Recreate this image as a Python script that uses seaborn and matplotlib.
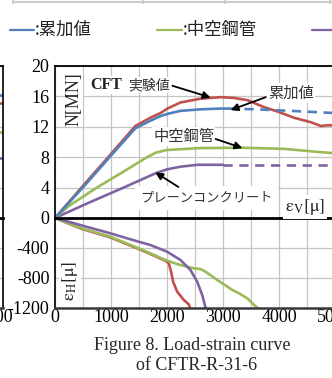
import numpy as np
import matplotlib
matplotlib.use("Agg")
import matplotlib.pyplot as plt
from matplotlib.lines import Line2D
import seaborn as sns

# --- top panel: N [MN] vs vertical strain eV [micro] ---
red_ev = [0, 484, 950, 1434, 1703, 1882, 2007, 2240, 2598, 2957, 3190, 3441, 3728, 3978, 4265, 4570, 4749, 4857, 5017]
red_n = [0, 4.1, 8.0, 12.1, 13.2, 13.8, 14.4, 15.2, 15.7, 15.9, 15.8, 15.5, 14.6, 14.0, 13.2, 12.6, 12.1, 12.2, 12.2]
blue_ev = [0, 484, 950, 1434, 1703, 1882, 2007, 2240, 2598, 2957, 3100]
blue_n = [0, 3.9, 7.8, 11.8, 12.8, 13.4, 13.7, 14.1, 14.3, 14.4, 14.4]
blue_dash_ev = [3100, 3600, 4200, 5017]
blue_dash_n = [14.4, 14.3, 14.1, 13.8]
green_ev = [0, 250, 747, 1200, 1643, 1800, 2000, 2598, 3315, 4086, 4690, 5017]
green_n = [0, 1.6, 4.0, 6.0, 8.0, 8.6, 8.95, 9.2, 9.25, 9.1, 8.7, 8.5]
purple_ev = [0, 600, 1225, 1800, 2000, 2240, 2540, 3000]
purple_n = [0, 2.0, 4.0, 5.9, 6.4, 6.75, 7.0, 7.0]
purple_dash_ev = [3000, 5017]
purple_dash_n = [7.0, 7.0]

# --- bottom panel: horizontal strain eH [micro] vs eV ---
red_h_ev = [0, 478, 986, 1493, 1703, 1971, 2031, 2073, 2109, 2181, 2300, 2390, 2410]
red_h = [0, -145, -258, -412, -480, -570, -604, -716, -849, -982, -1093, -1151, -1200]
green_h_ev = [0, 478, 986, 1493, 1703, 1971, 2091, 2240, 2479, 2598, 2688, 2898, 3167, 3285, 3435, 3554, 3620]
green_h = [0, -138, -249, -404, -471, -560, -591, -627, -671, -680, -716, -827, -960, -1004, -1071, -1160, -1200]
purple_h_ev = [0, 986, 1493, 1703, 2001, 2240, 2419, 2539, 2629, 2676, 2690]
purple_h = [0, -204, -316, -360, -449, -560, -693, -849, -1027, -1160, -1200]

# --- previous figure, only its right edge is visible ---
left_ev = [4700, 5125]
left_blue = [16.2, 16.2]
left_red = [15.1, 15.1]
left_green = [11.3, 11.3]
left_purple = [7.9, 7.9]

top_ticks = [0, 4, 8, 12, 16, 20]
bot_ticks = [-1200, -800, -400, 0]
bot_labels = ["-1200", "-800", "-400", ""]
x_ticks = [0, 1000, 2000, 3000, 4000, 5000]

RED, BLUE, GREEN, PURPLE = "#C0504D", "#4F81BD", "#9BBB59", "#8064A2"
GRID = "#c4c4c4"
LW = 1.9

sns.set_theme(style="white")
plt.rcParams['font.family'] = ['Liberation Serif', 'Noto Sans CJK JP', 'DejaVu Sans']
plt.rcParams['mathtext.fontset'] = 'stix'

W, H = 332, 378
def fx(px):
    return px / W
def fy(py):
    return 1 - py / H

fig = plt.figure(figsize=(W / 100, H / 100), dpi=100)


def make_pair(x_left_px, width_px, xmax, xticks, minor):
    ax_b = fig.add_axes([fx(x_left_px), fy(308), width_px / W, (308 - 218) / H])
    ax_t = fig.add_axes([fx(x_left_px), fy(218), width_px / W, (218 - 66) / H], sharex=ax_b)
    for ax in (ax_t, ax_b):
        ax.set_xlim(0, xmax)
        ax.set_xticks(xticks)
        ax.set_xticks(minor, minor=True)
        ax.grid(True, which='both', color=GRID, lw=0.9)
        ax.set_axisbelow(True)
        ax.tick_params(which='minor', length=0)
        ax.tick_params(axis='y', direction='out', length=3, width=1, pad=1,
                       labelsize=13, colors='black')
        ax.spines['right'].set_visible(False)
        ax.spines['left'].set_color('black')
        ax.spines['left'].set_linewidth(1.2)
    ax_t.set_ylim(0, 20)
    ax_t.set_yticks(top_ticks)
    ax_t.spines['bottom'].set_color('black')
    ax_t.spines['bottom'].set_linewidth(2.0)
    ax_t.spines['top'].set_color('black')
    ax_t.spines['top'].set_linewidth(1.3)
    ax_t.tick_params(axis='x', which='major', direction='inout', length=8,
                     width=1.2, labelbottom=False, color='black')
    ax_b.set_ylim(-1200, 0)
    ax_b.set_yticks(bot_ticks)
    ax_b.set_yticklabels(bot_labels)
    ax_b.spines['top'].set_visible(False)
    ax_b.spines['bottom'].set_color('#3a3a3a')
    ax_b.spines['bottom'].set_linewidth(1.8)
    ax_b.tick_params(axis='x', which='major', length=0, pad=1, labelsize=13,
                     colors='black')
    return ax_t, ax_b


# previous chart (cut off at the left edge)
lt, lb = make_pair(3 - 287, 287, 5125, [5000], [4500])
for vals, col in [(left_blue, BLUE), (left_red, RED), (left_green, GREEN), (left_purple, PURPLE)]:
    sns.lineplot(x=left_ev, y=vals, ax=lt, color=col, lw=LW)
for ax in (lt, lb):
    ax.tick_params(axis='y', labelleft=False, length=0)
    ax.spines['left'].set_visible(False)
    ax.spines['right'].set_visible(True)
    ax.spines['right'].set_color('black')
    ax.spines['right'].set_linewidth(1.2)

ax_t, ax_b = make_pair(55, 280, 5000, x_ticks, np.arange(500, 5000, 1000))

kw = dict(lw=LW, estimator=None)
sns.lineplot(x=purple_ev, y=purple_n, ax=ax_t, color=PURPLE, **kw)
sns.lineplot(x=purple_dash_ev, y=purple_dash_n, ax=ax_t, color=PURPLE, ls=(0, (3.5, 2.5)), **kw)
sns.lineplot(x=green_ev, y=green_n, ax=ax_t, color=GREEN, **kw)
sns.lineplot(x=red_ev, y=red_n, ax=ax_t, color=RED, **kw)
sns.lineplot(x=blue_ev, y=blue_n, ax=ax_t, color=BLUE, **kw)
sns.lineplot(x=blue_dash_ev, y=blue_dash_n, ax=ax_t, color=BLUE, ls=(0, (3.5, 2.5)), **kw)

sns.lineplot(x=red_h_ev, y=red_h, ax=ax_b, color=RED, **kw)
sns.lineplot(x=green_h_ev, y=green_h, ax=ax_b, color=GREEN, **kw)
sns.lineplot(x=purple_h_ev, y=purple_h, ax=ax_b, color=PURPLE, **kw)

# axis labels inside the plot
ax_t.text(0.068, 0.78, "N[MN]", transform=ax_t.transAxes, rotation=90,
          ha='center', va='center', fontsize=13,
          bbox=dict(fc='white', ec='none', pad=0.5))
ax_b.text(0.054, 0.30, r"$\mathrm{\varepsilon_H[\mu]}$", transform=ax_b.transAxes,
          rotation=90, ha='center', va='center', fontsize=13,
          bbox=dict(fc='white', ec='none', pad=0.5))
ax_t.text(4462, 1.45, r"$\mathrm{\varepsilon_V[\mu]}$", ha='center', va='center',
          fontsize=13, bbox=dict(fc='white', ec='none', pad=1.5))

jp = ['Noto Sans CJK JP', 'DejaVu Sans']
box = dict(fc='white', ec='none', pad=0.8)
ax_t.text(627, 17.5, "CFT", ha='left', va='center', fontsize=11.5,
          family=['Liberation Serif'], fontweight='bold', color='#222222', bbox=box)
ax_t.text(1300, 17.5, "実験値", ha='left', va='center', fontsize=10,
          family=jp, color='#333333', bbox=box)
ax_t.text(3799, 16.45, "累加値", ha='left', va='center', fontsize=11,
          family=jp, color='#333333', bbox=box)
ax_t.text(1756, 10.7, "中空鋼管", ha='left', va='center', fontsize=11,
          family=jp, color='#333333', bbox=box)
ax_t.text(1523, 2.6, "プレーンコンクリート", ha='left', va='center', fontsize=9.5,
          family=jp, color='#333333', bbox=dict(fc='white', ec='none', pad=4))

arrow = dict(arrowstyle='-|>', color='black', lw=1.3, mutation_scale=11,
             shrinkA=0, shrinkB=0)
for tail, head in [((2097, 17.4), (2778, 15.85)),
                   ((3763, 15.9), (3136, 14.2)),
                   ((2867, 10.4), (3346, 9.2)),
                   ((2204, 4.08), (1792, 6.0))]:
    ax_t.annotate("", xy=head, xytext=tail, arrowprops=arrow)

# legend row (third entry cut off at the right edge)
leg_y = fy(30)
for x0, x1, col in [(10, 34, BLUE), (157, 182, GREEN), (312, 345, PURPLE)]:
    fig.add_artist(Line2D([fx(x0), fx(x1)], [leg_y, leg_y], color=col, lw=1.6))
fig.text(fx(35), leg_y, ":累加値", ha='left', va='center', fontsize=12.5, family=jp,
         color='#222222')
fig.text(fx(183), leg_y, ":中空鋼管", ha='left', va='center', fontsize=12.5, family=jp,
         color='#222222')

# bottom edge of the table above
fig.add_artist(Line2D([fx(13), fx(332)], [fy(2), fy(2)], color='#cccccc', lw=1.5))
for px in [13, 143, 225, 330]:
    fig.add_artist(Line2D([fx(px), fx(px)], [fy(0), fy(3)], color='#cccccc', lw=1.5))

fig.text(fx(192), fy(345), "Figure 8. Load-strain curve", ha='center', va='center',
         fontsize=13, family=['Liberation Serif'])
fig.text(fx(197), fy(366), "of CFTR-R-31-6", ha='center', va='center',
         fontsize=13, family=['Liberation Serif'])

fig.savefig("out.png", dpi=100)
